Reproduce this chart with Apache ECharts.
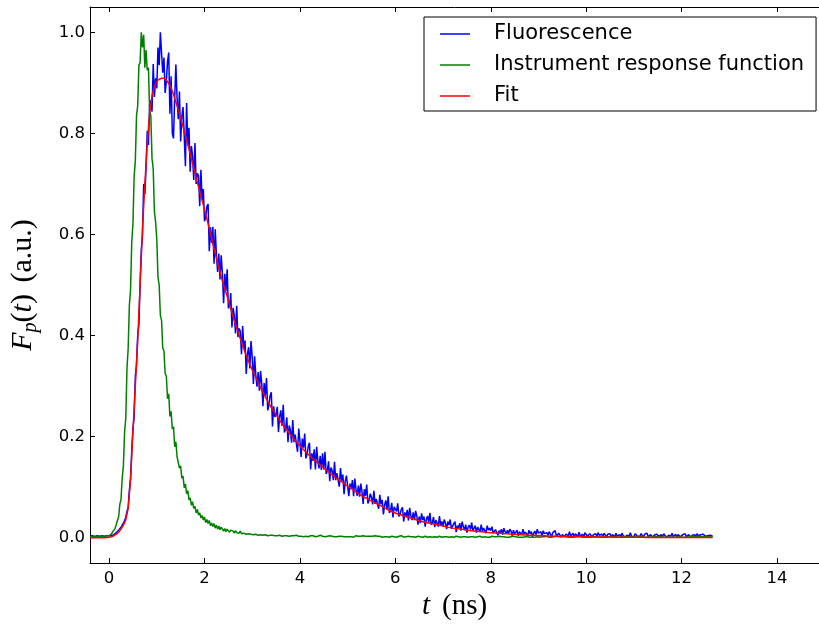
<!DOCTYPE html>
<html>
<head>
<meta charset="utf-8">
<script src="https://cdn.jsdelivr.net/npm/echarts@6/dist/echarts.min.js"></script>
<style>
  html, body { margin: 0; padding: 0; background: #ffffff; }
  #chart { width: 819px; height: 626px; }
</style>
</head>
<body>
<div id="chart"></div>
<script>
// Time-correlated photon counting traces.
// Measured traces are sampled every CHANNEL_STEP ns, the fit every FIT_STEP ns,
// all starting at T_START ns.
const T_START = -0.4;
const CHANNEL_STEP = 0.025;
const FIT_STEP = 0.05;

const seriesNames = ['Fluorescence', 'Instrument response function', 'Fit'];

// Measured fluorescence decay (normalised counts), -0.4 ns … 12.65 ns
const fluorescence = [
  0.003,0.002,0.004,0.003,0.002,0.003,0.004,0.002,0.003,0.002,0.004,0.003,0.003,0.002,0.004,0.003,
  0.004,0.005,0.004,0.007,0.006,0.009,0.010,0.012,0.015,0.016,0.021,0.023,0.029,0.034,0.040,0.052,0.060,0.094,0.118,0.172,
  0.216,0.238,0.320,0.342,0.401,0.421,0.502,0.569,0.597,0.700,0.680,0.732,0.805,0.777,0.858,0.865,0.843,0.937,0.872,0.909,
  0.889,0.970,0.935,1.000,0.958,0.920,0.950,0.880,0.903,0.942,0.960,0.839,0.913,0.800,0.790,0.870,0.936,0.870,0.828,0.883,
  0.784,0.833,0.852,0.795,0.735,0.860,0.776,0.811,0.724,0.775,0.756,0.708,0.781,0.700,0.721,0.716,0.656,0.728,0.668,0.690,
  0.626,0.634,0.655,0.660,0.567,0.614,0.583,0.615,0.542,0.610,0.559,0.526,0.562,0.511,0.559,0.523,0.464,0.522,0.488,0.531,
  0.454,0.458,0.484,0.416,0.455,0.439,0.404,0.459,0.397,0.414,0.409,0.363,0.419,0.373,0.390,0.324,0.363,0.377,0.335,0.389,
  0.358,0.304,0.359,0.322,0.299,0.328,0.291,0.330,0.304,0.260,0.306,0.281,0.316,0.252,0.262,0.281,0.288,0.220,0.260,0.239,
  0.244,0.259,0.209,0.240,0.252,0.221,0.263,0.208,0.215,0.238,0.189,0.222,0.213,0.188,0.233,0.189,0.204,0.203,0.170,0.216,
  0.192,0.160,0.196,0.178,0.206,0.157,0.165,0.181,0.188,0.135,0.167,0.152,0.175,0.135,0.180,0.153,0.137,0.162,0.134,0.167,
  0.135,0.170,0.126,0.132,0.151,0.112,0.139,0.133,0.114,0.150,0.114,0.128,0.127,0.101,0.138,0.113,0.125,0.086,0.112,0.123,
  0.122,0.082,0.107,0.096,0.114,0.082,0.117,0.096,0.083,0.103,0.081,0.107,0.092,0.067,0.096,0.083,0.105,0.068,0.074,0.087,
  0.080,0.066,0.093,0.067,0.077,0.077,0.057,0.085,0.066,0.075,0.046,0.065,0.074,0.056,0.082,0.049,0.054,0.069,0.040,0.061,
  0.062,0.052,0.068,0.042,0.047,0.056,0.060,0.032,0.050,0.042,0.055,0.034,0.059,0.044,0.035,0.050,0.035,0.053,0.043,0.026,
  0.042,0.029,0.048,0.035,0.042,0.022,0.036,0.043,0.030,0.049,0.026,0.030,0.041,0.021,0.035,0.033,0.022,0.043,0.024,0.032,
  0.023,0.036,0.029,0.017,0.032,0.025,0.036,0.018,0.021,0.028,0.032,0.011,0.024,0.019,0.029,0.014,0.032,0.022,0.015,0.026,
  0.010,0.021,0.025,0.016,0.030,0.014,0.017,0.024,0.010,0.021,0.019,0.012,0.026,0.013,0.019,0.018,0.009,0.024,0.015,0.019,
  0.014,0.022,0.009,0.012,0.016,0.019,0.005,0.014,0.010,0.017,0.006,0.019,0.012,0.008,0.015,0.008,0.017,0.013,0.004,0.015,
  0.007,0.009,0.015,0.004,0.012,0.011,0.006,0.017,0.007,0.011,0.011,0.004,0.015,0.008,0.012,0.002,0.009,0.013,0.006,0.017,
  0.009,0.006,0.012,0.003,0.014,0.008,0.005,0.010,0.005,0.012,0.009,0.002,0.010,0.007,0.014,0.003,0.005,0.009,0.011,0.001,
  0.006,0.009,0.002,0.007,0.009,0.004,0.012,0.003,0.005,0.009,0.001,0.008,0.006,0.002,0.011,0.003,0.006,0.007,0.001,0.010,
  0.011,0.003,0.005,0.008,0.009,0.001,0.006,0.004,0.008,0.002,0.010,0.005,0.003,0.007,0.003,0.009,0.006,0.001,0.007,0.005,
  0.008,0.001,0.006,0.005,0.002,0.009,0.003,0.006,0.006,0.002,0.009,0.004,0.007,0.001,0.005,0.007,0.003,0.010,0.003,0.004,
  0.002,0.008,0.005,0.003,0.006,0.003,0.008,0.005,0.001,0.007,0.004,0.009,0.002,0.004,0.006,0.008,0.001,0.005,0.003,0.007,
  0.008,0.003,0.005,0.006,0.002,0.008,0.004,0.006,0.001,0.005,0.007,0.003,0.009,0.002,0.004,0.007,0.001,0.006,0.005,0.002,
  0.001,0.006,0.004,0.008,0.002,0.003,0.006,0.007,0.001,0.005,0.003,0.006,0.001,0.008,0.004,0.002,0.006,0.003,0.007,0.005,
  0.003,0.006,0.004,0.002,0.005,0.004,0.003
];

// Instrument response function (laser pulse as seen by the detector), -0.4 ns … 12.65 ns
const irf = [
  0.002,0.003,0.001,0.002,0.003,0.002,0.001,0.003,0.002,0.002,0.003,0.001,0.002,0.003,0.004,0.003,
  0.004,0.007,0.007,0.012,0.011,0.018,0.019,0.034,0.041,0.066,0.076,0.118,0.142,0.210,0.236,0.335,0.375,0.460,0.490,0.585,
  0.620,0.715,0.745,0.835,0.855,0.935,0.940,1.000,0.970,0.995,0.930,0.965,0.925,0.930,0.845,0.835,0.750,0.730,0.645,0.625,
  0.590,0.515,0.500,0.440,0.430,0.375,0.370,0.325,0.320,0.275,0.285,0.240,0.250,0.215,0.220,0.180,0.190,0.160,0.162,0.138,
  0.142,0.118,0.122,0.099,0.106,0.087,0.093,0.075,0.079,0.064,0.071,0.058,0.062,0.049,0.056,0.045,0.049,0.039,0.044,0.035,
  0.041,0.030,0.036,0.028,0.034,0.024,0.029,0.022,0.028,0.019,0.025,0.017,0.023,0.016,0.021,0.019,0.013,0.018,0.012,0.017,
  0.016,0.011,0.015,0.012,0.013,0.009,0.014,0.010,0.012,0.009,0.013,0.008,0.011,0.009,0.012,0.007,0.010,0.008,0.011,0.007,
  0.009,0.006,0.008,0.007,0.009,0.005,0.007,0.006,0.008,0.005,0.007,0.006,0.007,0.004,0.007,0.005,0.006,0.005,0.007,0.004,
  0.006,0.004,0.006,0.005,0.006,0.003,0.005,0.004,0.006,0.004,0.005,0.003,0.006,0.004,0.005,0.004,0.003,0.005,0.004,0.003,
  0.005,0.003,0.004,0.002,0.004,0.003,0.005,0.002,0.003,0.004,0.002,0.004,0.003,0.002,0.004,0.003,0.003,0.005,0.002,0.003,
  0.004,0.002,0.003,0.003,0.002,0.004,0.002,0.003,0.005,0.002,0.003,0.002,0.004,0.003,0.002,0.003,0.004,0.002,0.003,0.002,
  0.003,0.002,0.004,0.002,0.003,0.001,0.003,0.004,0.002,0.003,0.002,0.003,0.002,0.004,0.002,0.003,0.001,0.003,0.002,0.003,
  0.002,0.003,0.002,0.004,0.001,0.003,0.002,0.003,0.002,0.001,0.003,0.002,0.004,0.002,0.003,0.001,0.002,0.003,0.002,0.002,
  0.003,0.001,0.002,0.003,0.002,0.004,0.002,0.001,0.003,0.002,0.002,0.003,0.001,0.002,0.003,0.002,0.004,0.001,0.002,0.003,
  0.002,0.002,0.003,0.001,0.002,0.003,0.002,0.001,0.003,0.002,0.003,0.001,0.002,0.002,0.003,0.001,0.002,0.003,0.002,0.001,
  0.003,0.002,0.001,0.002,0.003,0.001,0.002,0.002,0.003,0.001,0.002,0.003,0.001,0.002,0.002,0.001,0.003,0.002,0.001,0.002,
  0.002,0.001,0.003,0.002,0.001,0.002,0.003,0.001,0.002,0.002,0.001,0.003,0.002,0.001,0.002,0.002,0.003,0.001,0.002,0.001,
  0.002,0.003,0.001,0.002,0.001,0.002,0.002,0.003,0.001,0.002,0.001,0.002,0.003,0.001,0.002,0.001,0.002,0.002,0.001,0.003,
  0.001,0.002,0.002,0.001,0.003,0.001,0.002,0.001,0.002,0.002,0.001,0.002,0.003,0.001,0.002,0.001,0.002,0.001,0.003,0.002,
  0.002,0.001,0.002,0.002,0.001,0.002,0.001,0.003,0.002,0.001,0.002,0.001,0.002,0.002,0.001,0.003,0.001,0.002,0.001,0.002,
  0.001,0.002,0.001,0.002,0.002,0.001,0.003,0.001,0.002,0.001,0.002,0.002,0.001,0.002,0.001,0.003,0.002,0.001,0.002,0.001,
  0.002,0.001,0.002,0.001,0.003,0.002,0.001,0.002,0.001,0.002,0.002,0.001,0.003,0.001,0.002,0.001,0.002,0.001,0.002,0.002,
  0.001,0.003,0.001,0.002,0.001,0.002,0.002,0.001,0.002,0.001,0.003,0.002,0.001,0.002,0.001,0.002,0.001,0.002,0.002,0.001,
  0.002,0.001,0.002,0.002,0.001,0.002,0.001,0.002,0.003,0.001,0.002,0.001,0.002,0.001,0.002,0.002,0.001,0.002,0.001,0.002,
  0.001,0.002,0.001,0.002,0.002,0.001,0.002,0.001,0.002,0.001,0.003,0.001,0.002,0.001,0.002,0.001,0.002,0.002,0.001,0.002,
  0.002,0.001,0.002,0.001,0.002,0.001,0.002,0.002,0.001,0.002,0.001,0.002,0.001,0.003,0.001,0.002,0.001,0.002,0.001,0.002,
  0.001,0.002,0.001,0.002,0.002,0.001,0.002
];

// Reconvolution fit of the decay, -0.4 ns … 12.65 ns
const fit = [
  0,0,0,0,0,0,0,0.0005,
  0.001,0.002,0.004,0.007,0.011,0.017,0.025,0.035,0.058,0.115,
  0.210,0.300,0.390,0.500,0.610,0.700,0.780,0.840,0.875,0.893,
  0.903,0.907,0.909,0.909,0.905,0.899,0.890,0.877,0.862,0.847,
  0.830,0.813,0.795,0.778,0.760,0.741,0.722,0.703,0.685,0.667,
  0.650,0.631,0.612,0.592,0.572,0.553,0.535,0.517,0.500,0.485,
  0.470,0.453,0.437,0.422,0.408,0.394,0.380,0.367,0.355,0.343,
  0.332,0.322,0.312,0.302,0.292,0.283,0.274,0.266,0.258,0.250,
  0.243,0.236,0.229,0.222,0.216,0.210,0.204,0.198,0.193,0.187,
  0.182,0.177,0.172,0.167,0.163,0.158,0.154,0.150,0.146,0.142,
  0.138,0.134,0.130,0.126,0.123,0.119,0.116,0.112,0.109,0.105,
  0.102,0.099,0.096,0.092,0.089,0.086,0.083,0.080,0.078,0.075,
  0.073,0.070,0.068,0.065,0.063,0.060,0.058,0.055,0.053,0.051,
  0.049,0.047,0.046,0.044,0.043,0.041,0.040,0.038,0.037,0.035,
  0.034,0.032,0.031,0.030,0.029,0.028,0.027,0.026,0.025,0.024,
  0.023,0.022,0.021,0.020,0.019,0.0185,0.018,0.0175,0.017,0.016,
  0.015,0.0145,0.014,0.0135,0.013,0.0125,0.012,0.0115,0.011,0.0105,
  0.010,0.0097,0.0093,0.009,0.0087,0.0083,0.008,0.0077,0.0073,0.007,
  0.0067,0.0064,0.0061,0.0058,0.0055,0.0053,0.0051,0.0049,0.0047,0.0045,
  0.0043,0.0041,0.0039,0.0037,0.0036,0.0034,0.0033,0.0031,0.0030,0.0029,
  0.0028,0.0027,0.0026,0.0025,0.0024,0.0023,0.0022,0.0021,0.0020,0.0019,
  0.0018,0.0017,0.0017,0.0016,0.0015,0.0015,0.0014,0.0013,0.0013,0.0012,
  0.0012,0.0011,0.0011,0.0010,0.0010,0.0010,0.0009,0.0009,0.0009,0.0008,
  0.0008,0.0008,0.0007,0.0007,0.0007,0.0006,0.0006,0.0006,0.0006,0.0005,
  0.0005,0.0005,0.0005,0.0005,0.0004,0.0004,0.0004,0.0004,0.0004,0.0004,
  0.0003,0.0003,0.0003,0.0003,0.0003,0.0003,0.0003,0.0003,0.0003,0.0003,
  0.0003,0.0003,0.0003,0.0003
];

const xTicks = [0, 2, 4, 6, 8, 10, 12, 14];
const yTicks = [0.0, 0.2, 0.4, 0.6, 0.8, 1.0];

const lineColors = ['#0000ff', '#008000', '#ff0000'];

// Pair every sample with its time stamp.
function withTime(values, step) {
  return values.map((v, i) => [Number((T_START + i * step).toFixed(3)), v]);
}

const sansFont = 'DejaVu Sans';
const mathFont = 'Liberation Serif';
const axisLineStyle = { color: '#000000', width: 1 };

const chart = echarts.init(document.getElementById('chart'), null, { renderer: 'canvas' });

chart.setOption({
  animation: false,
  backgroundColor: '#ffffff',
  grid: { left: 88, right: 0, top: 7, bottom: 63, containLabel: false },
  legend: {
    orient: 'vertical',
    left: 424,
    top: 17,
    data: seriesNames,
    icon: 'rect',
    itemWidth: 30,
    itemHeight: 1.5,
    itemGap: 7,
    padding: [5, 12, 3, 16],
    backgroundColor: '#ffffff',
    borderColor: '#000000',
    borderWidth: 1,
    borderRadius: 0,
    textStyle: {
      fontFamily: sansFont,
      fontSize: 21,
      color: '#000000',
      lineHeight: 24,
      padding: [0, 0, 0, 19]
    }
  },
  xAxis: [
    {
      type: 'value',
      position: 'bottom',
      min: -0.4,
      max: 14.88,
      splitLine: { show: false },
      axisLine: { show: true, onZero: false, lineStyle: axisLineStyle },
      axisTick: { show: true, inside: true, length: 5, lineStyle: axisLineStyle, customValues: xTicks },
      axisLabel: {
        show: true,
        customValues: xTicks,
        fontFamily: sansFont,
        fontSize: 16.5,
        color: '#000000',
        margin: 7,
        formatter: v => String(v)
      },
      name: '{i|t}{n|(ns)}',
      nameLocation: 'middle',
      nameGap: 21,
      nameTextStyle: {
        rich: {
          i: { fontFamily: mathFont, fontStyle: 'italic', fontSize: 29, color: '#000000', padding: [0, 12, 0, 0] },
          n: { fontFamily: mathFont, fontSize: 29, color: '#000000' }
        }
      }
    },
    {
      type: 'value',
      position: 'top',
      min: -0.4,
      max: 14.88,
      splitLine: { show: false },
      axisLine: { show: true, onZero: false, lineStyle: axisLineStyle },
      axisTick: { show: true, inside: true, length: 5, lineStyle: axisLineStyle, customValues: xTicks },
      axisLabel: { show: false }
    }
  ],
  yAxis: {
    type: 'value',
    min: -0.05,
    max: 1.05,
    splitLine: { show: false },
    axisLine: { show: true, onZero: false, lineStyle: axisLineStyle },
    axisTick: { show: true, inside: true, length: 5, lineStyle: axisLineStyle, customValues: yTicks },
    axisLabel: {
      show: true,
      customValues: yTicks,
      fontFamily: sansFont,
      fontSize: 16.5,
      color: '#000000',
      margin: 5,
      formatter: v => v.toFixed(1)
    },
    name: '{i|F}{s|p}{n|(}{i|t}{n|)}{g| }{n|(a.u.)}',
    nameLocation: 'middle',
    nameGap: 49,
    nameTextStyle: {
      rich: {
        i: { fontFamily: mathFont, fontStyle: 'italic', fontSize: 30, lineHeight: 36, color: '#000000', verticalAlign: 'middle' },
        s: { fontFamily: mathFont, fontStyle: 'italic', fontSize: 20, lineHeight: 20, color: '#000000', verticalAlign: 'bottom' },
        n: { fontFamily: mathFont, fontSize: 30, lineHeight: 36, color: '#000000', verticalAlign: 'middle' },
        g: { fontFamily: mathFont, fontSize: 30, lineHeight: 36, padding: [0, 4, 0, 0] }
      }
    }
  },
  series: [
    {
      name: seriesNames[0],
      type: 'line',
      xAxisIndex: 0,
      data: withTime(fluorescence, CHANNEL_STEP),
      showSymbol: false,
      symbol: 'none',
      lineStyle: { color: lineColors[0], width: 1.5 },
      itemStyle: { color: lineColors[0] },
      z: 2
    },
    {
      name: seriesNames[1],
      type: 'line',
      xAxisIndex: 0,
      data: withTime(irf, CHANNEL_STEP),
      showSymbol: false,
      symbol: 'none',
      lineStyle: { color: lineColors[1], width: 1.5 },
      itemStyle: { color: lineColors[1] },
      z: 3
    },
    {
      name: seriesNames[2],
      type: 'line',
      xAxisIndex: 0,
      data: withTime(fit, FIT_STEP),
      showSymbol: false,
      symbol: 'none',
      lineStyle: { color: lineColors[2], width: 1.5 },
      itemStyle: { color: lineColors[2] },
      z: 4
    }
  ]
});
</script>
</body>
</html>
